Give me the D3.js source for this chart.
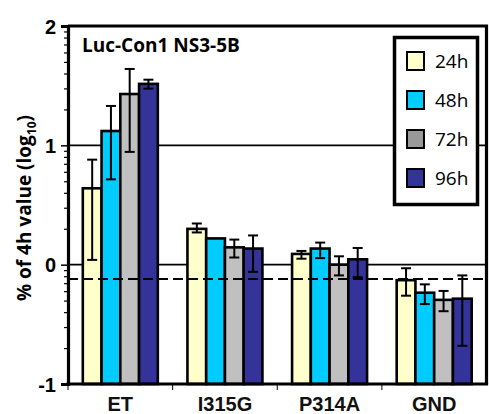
<!DOCTYPE html>
<html>
  <head>
    <meta charset="utf-8">
    <title>log10 bars</title>
    <script src="https://cdn.jsdelivr.net/npm/d3@7"></script>
    <style>
      body { margin: 0; background: #fff; }
    </style>
  </head>
  <body>
    <script>
      var w = 489, h = 414;

      // data
      var categories = ["ET", "I315G", "P314A", "GND"];
      var series = ["24h", "48h", "72h", "96h"];
      var barColors = ["#ffffcc", "#00ccff", "#c0c0c0", "#333399"];
      var legendColors = ["#ffffcc", "#00ccff", "#999999", "#333399"];
      // mean value per category, one array per time point
      var v24 = [0.64, 0.30, 0.09, -0.13];
      var v48 = [1.12, 0.22, 0.135, -0.235];
      var v72 = [1.43, 0.145, 0.0, -0.295];
      var v96 = [1.515, 0.135, 0.045, -0.285];
      // error bar ends (upper / lower)
      var hi24 = [0.88, 0.345, 0.115, -0.03];
      var lo24 = [0.04, 0.27, 0.05, -0.26];
      var hi48 = [1.33, null, 0.185, -0.165];
      var lo48 = [0.715, null, 0.055, -0.33];
      var hi72 = [1.64, 0.21, 0.07, -0.22];
      var lo72 = [0.945, 0.06, -0.09, -0.39];
      var hi96 = [1.55, 0.245, 0.14, -0.09];
      var lo96 = [1.475, -0.06, -0.105, -0.68];
      var yMajor = [-1, 0, 1, 2];
      var dashedLevel = -0.12;
      var title = "Luc-Con1 NS3-5B";

      var values = [v24, v48, v72, v96];
      var his = [hi24, hi48, hi72, hi96];
      var los = [lo24, lo48, lo72, lo96];

      var rows = [];
      categories.forEach(function(c, ci) {
        series.forEach(function(s, si) {
          rows.push({cat: c, ser: s, si: si, v: values[si][ci], hi: his[si][ci], lo: los[si][ci]});
        });
      });

      // plot box (top is reserved on window, so use other names)
      var pL = 68, pR = 486.5, pT = 26, pB = 384;

      var svg = d3.select("body").append("svg")
                  .attr("width", w).attr("height", h);

      var y = d3.scaleLinear().domain([-1, 2]).range([pB, pT]);
      var x0 = d3.scaleBand().domain(categories).range([pL, pR]).padding(0);
      var x1 = d3.scaleBand().domain(series).range([0, x0.bandwidth()])
                 .paddingInner(0).paddingOuter(0.79);

      // gridlines at 0 and 1
      svg.selectAll("line.grid")
         .data([0, 1])
         .enter().append("line")
         .attr("class", "grid")
         .attr("x1", pL).attr("x2", pR)
         .attr("y1", function(d) { return y(d); })
         .attr("y2", function(d) { return y(d); })
         .attr("stroke", "#000").attr("stroke-width", 1.6);

      // bars (drawn up from the bottom of the axis)
      var g = svg.append("g");
      g.selectAll("rect")
       .data(rows)
       .enter().append("rect")
       .attr("x", function(d) { return x0(d.cat) + x1(d.ser); })
       .attr("width", x1.bandwidth())
       .attr("y", function(d) { return y(d.v); })
       .attr("height", function(d) { return y(-1) - y(d.v); })
       .attr("fill", function(d) { return barColors[d.si]; })
       .attr("stroke", "#000").attr("stroke-width", 2.6);

      // error bars
      var eb = rows.filter(function(d) { return d.hi != null; });
      var cx = function(d) { return x0(d.cat) + x1(d.ser) + x1.bandwidth() / 2; };
      g.selectAll("line.err")
       .data(eb).enter().append("line")
       .attr("class", "err")
       .attr("x1", cx).attr("x2", cx)
       .attr("y1", function(d) { return y(d.hi); })
       .attr("y2", function(d) { return y(d.lo); })
       .attr("stroke", "#000").attr("stroke-width", 2);
      ["hi", "lo"].forEach(function(k) {
        g.selectAll("line.cap" + k)
         .data(eb).enter().append("line")
         .attr("class", "cap" + k)
         .attr("x1", function(d) { return cx(d) - 5; })
         .attr("x2", function(d) { return cx(d) + 5; })
         .attr("y1", function(d) { return y(d[k]); })
         .attr("y2", function(d) { return y(d[k]); })
         .attr("stroke", "#000").attr("stroke-width", 2);
      });

      // dashed reference line
      svg.append("line")
         .attr("x1", pL).attr("x2", pR)
         .attr("y1", y(dashedLevel)).attr("y2", y(dashedLevel))
         .attr("stroke", "#000").attr("stroke-width", 2)
         .attr("stroke-dasharray", "10,5");

      // frame top and right
      svg.append("path")
         .attr("d", "M" + pL + "," + pT + "H" + pR + "V" + pB)
         .attr("fill", "none").attr("stroke", "#000").attr("stroke-width", 3.2);

      // y axis with log-style minor ticks
      var minor = [];
      [-1, 0, 1].forEach(function(dec) {
        for (var k = 2; k <= 9; k++) minor.push(dec + Math.log10(k));
      });
      var yAxis = svg.append("g").attr("transform", "translate(" + pL + ",0)")
         .call(d3.axisLeft(y).tickValues(yMajor).tickSize(7)
                 .tickFormat(function(d) { return String(d); }));
      yAxis.select(".domain").attr("stroke-width", 3.2);
      yAxis.selectAll(".tick line").attr("stroke-width", 1.5);
      yAxis.selectAll(".tick text")
           .attr("font-family", "'Liberation Sans', Arial, sans-serif")
           .attr("font-weight", "bold").attr("font-size", "20px")
           .attr("x", -12).attr("dy", "0.36em");
      var yMinor = svg.append("g").attr("transform", "translate(" + pL + ",0)")
         .call(d3.axisLeft(y).tickValues(minor).tickSize(4).tickFormat(""));
      yMinor.select(".domain").remove();
      yMinor.selectAll(".tick line").attr("stroke-width", 1.2);

      // x axis
      var xAxis = svg.append("g").attr("transform", "translate(0," + pB + ")")
         .call(d3.axisBottom(x0).tickSize(0).tickPadding(13));
      xAxis.select(".domain").attr("stroke-width", 3.2).attr("d", "M" + (pL - 1.6) + ",0H" + (pR + 1.6));
      xAxis.selectAll(".tick text")
           .attr("font-family", "'Liberation Sans', Arial, sans-serif")
           .attr("font-weight", "bold").attr("font-size", "20px")
           .attr("fill", "#111");
      // small boundary ticks between categories
      svg.selectAll("line.xtick")
         .data(categories).enter().append("line")
         .attr("class", "xtick")
         .attr("x1", function(d) { return x0(d); }).attr("x2", function(d) { return x0(d); })
         .attr("y1", pB).attr("y2", pB + 6)
         .attr("stroke", "#000").attr("stroke-width", 1);

      // y label
      var yl = svg.append("text")
         .attr("transform", "translate(31,208) rotate(-90)")
         .attr("text-anchor", "middle")
         .attr("font-family", "'Open Sans', sans-serif")
         .attr("font-weight", "bold").attr("font-size", "19px");
      yl.append("tspan").text("% of 4h value (log");
      yl.append("tspan").text("10").attr("font-size", "12px").attr("dy", 5);
      yl.append("tspan").text(")").attr("dy", -5);

      // title
      svg.append("text")
         .attr("x", 82).attr("y", 52)
         .attr("font-family", "'Open Sans', sans-serif")
         .attr("font-weight", "bold").attr("font-size", "19px")
         .text(title);

      // legend
      var lg = svg.append("g");
      lg.append("rect")
        .attr("x", 394.5).attr("y", 37.5).attr("width", 83).attr("height", 167)
        .attr("fill", "#fff").attr("stroke", "#000").attr("stroke-width", 3.5);
      var item = lg.selectAll("g.item").data(series).enter().append("g")
        .attr("transform", function(d, i) { return "translate(407," + (52 + i * 39) + ")"; });
      item.append("rect")
        .attr("width", 17).attr("height", 18)
        .attr("fill", function(d, i) { return legendColors[i]; })
        .attr("stroke", "#000").attr("stroke-width", 2);
      item.append("text")
        .attr("x", 28).attr("y", 16)
        .attr("font-family", "'Open Sans', sans-serif")
        .attr("font-size", "19px")
        .text(function(d) { return d; });
    </script>
  </body>
</html>
